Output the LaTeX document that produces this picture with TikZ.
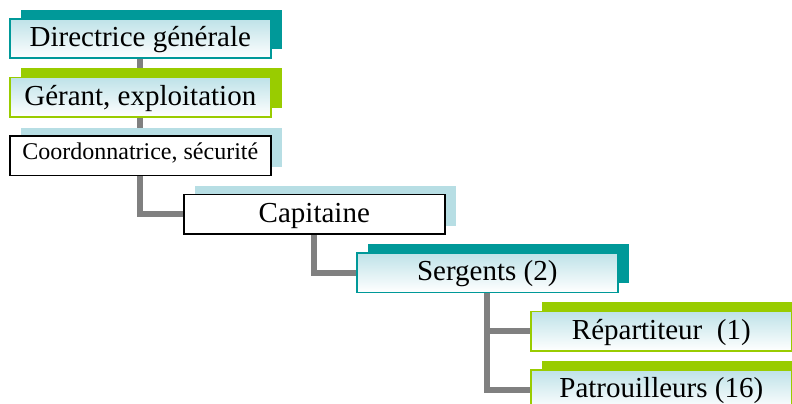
\documentclass[tikz,border=0pt]{standalone}
\usepackage{fontspec}
\setmainfont{Liberation Serif}
\usetikzlibrary{shadows,backgrounds}
\definecolor{tealc}{RGB}{0,153,153}
\definecolor{greenc}{RGB}{153,204,0}
\definecolor{lbluec}{RGB}{183,222,228}
\definecolor{gradtop}{RGB}{190,226,232}
\definecolor{linec}{RGB}{128,128,128}
\tikzset{
  box/.style={rectangle, anchor=north west, minimum width=261pt, minimum height=39.5pt,
    inner sep=0pt, line width=1.6pt, font=\fontsize{29}{34}\selectfont,
    text height=21pt, text depth=5pt},
  tealbox/.style={box, draw=tealc, top color=gradtop, bottom color=white,
    general shadow={fill=tealc, shadow xshift=11pt, shadow yshift=9pt}},
  greenbox/.style={box, draw=greenc, top color=gradtop, bottom color=white,
    general shadow={fill=greenc, shadow xshift=11pt, shadow yshift=9pt}},
  plainbox/.style={box, draw=black, fill=white,
    general shadow={fill=lbluec, shadow xshift=11pt, shadow yshift=8pt}},
  conn/.style={draw=linec, line width=6pt}
}
\begin{document}
\begin{tikzpicture}[x=1pt,y=-1pt]
\useasboundingbox (0,0) rectangle (792,404);
\node[tealbox]  (d)   at (9,18)    {Directrice générale};
\node[greenbox] (g)   at (9,76.5)  {Gérant, exploitation};
\node[plainbox, font=\fontsize{24}{28}\selectfont, text height=17pt, text depth=10pt] (c) at (9,135) {Coordonnatrice, sécurité};
\node[plainbox] (cap) at (183,193.5) {Capitaine};
\node[tealbox]  (s)   at (356,252) {Sergents (2)};
\node[greenbox] (r)   at (530,310.5) {Répartiteur~ (1)};
\node[greenbox] (p)   at (530,369) {Patrouilleurs (16)};
\begin{pgfonlayer}{background}
\draw[conn] (d.south) -- (g.north);
\draw[conn] (g.south) -- (c.north);
\draw[conn] (c.south) |- (cap.west);
\draw[conn] (cap.south) |- (s.west);
\draw[conn] (s.south) |- (r.west);
\draw[conn] (s.south) |- (p.west);
\end{pgfonlayer}
\end{tikzpicture}
\end{document}
